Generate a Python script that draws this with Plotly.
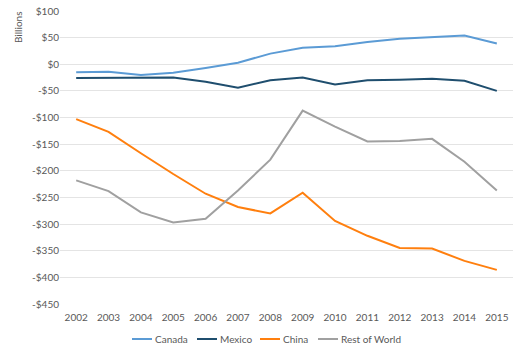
import plotly.graph_objects as go

years = [str(y) for y in range(2002, 2016)]
canada = [-15, -14, -20, -16, -7, 3, 20, 31, 34, 42, 48, 51, 54, 39]
mexico = [-26, -26, -26, -25, -33, -44, -30, -25, -38, -30, -29, -27, -31, -50]
china = [-103, -127, -167, -206, -243, -268, -280, -241, -294, -322, -345, -346, -369, -386]
rest = [-218, -238, -278, -297, -290, -237, -179, -87, -117, -145, -144, -140, -183, -237]

names = ["Canada", "Mexico", "China", "Rest of World"]
colors = ["#5B9BD5", "#1F4E6E", "#FF7F0E", "#A0A0A0"]
values = [canada, mexico, china, rest]

y_ticks = list(range(-450, 101, 50))
y_labels = [("-$" + str(-v)) if v < 0 else "$" + str(v) for v in y_ticks]

W, H = 525, 355
L, R, T, B = 60, 12, 11, 51
font = "Lato, 'Open Sans', sans-serif"
txtcol = "#595959"

fig = go.Figure()
for name, vals, color in zip(names, values, colors):
    fig.add_trace(go.Scatter(x=years, y=vals, name=name, mode="lines",
                             line=dict(color=color, width=2)))

# custom legend (pixel positions converted to paper coordinates)
legend_x = [132, 197, 260, 318]
legend_y = 339
shapes, annotations = [], []
for lx, name, color in zip(legend_x, names, colors):
    shapes.append(dict(type="line", xref="paper", yref="paper",
                       x0=(lx - L) / (W - L - R), x1=(lx + 20 - L) / (W - L - R),
                       y0=(H - B - legend_y) / (H - T - B), y1=(H - B - legend_y) / (H - T - B),
                       line=dict(color=color, width=2)))
    annotations.append(dict(text=name, xref="paper", yref="paper",
                            x=(lx + 21 - L) / (W - L - R), y=(H - B - legend_y) / (H - T - B),
                            xanchor="left", yanchor="middle", showarrow=False,
                            font=dict(size=10, color=txtcol)))
annotations.append(dict(text="Billions", xref="paper", yref="paper",
                        x=(18 - L) / (W - L - R), y=(H - B - 28) / (H - T - B),
                        xanchor="center", yanchor="middle", textangle=-90,
                        showarrow=False, font=dict(size=10, color=txtcol)))

fig.update_layout(
    width=W, height=H,
    margin=dict(l=L, r=R, t=T, b=B, autoexpand=False),
    paper_bgcolor="white", plot_bgcolor="white",
    font=dict(family=font, size=10, color=txtcol),
    showlegend=False,
    hovermode=False,
    xaxis=dict(type="category", range=[-0.5, 13.5], showgrid=False, showline=False,
               ticks="", tickfont=dict(size=10, color=txtcol), automargin=False,
               ticklabelstandoff=6),
    yaxis=dict(range=[-450, 100], tickvals=y_ticks, ticktext=y_labels,
               showgrid=True, gridcolor="#E4E4E4", gridwidth=1, zeroline=False,
               showline=False, ticks="", tickfont=dict(size=10, color=txtcol),
               automargin=False),
    shapes=shapes,
    annotations=annotations,
)
fig.write_html("out.html", config={"displayModeBar": False, "staticPlot": True},
               post_script="document.body.style.margin='0';document.body.style.overflow='hidden';")
